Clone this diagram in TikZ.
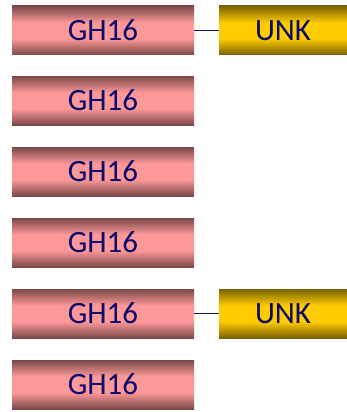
\documentclass[tikz,border=0pt]{standalone}
\usepackage{fontspec}
\setmainfont{Carlito}
\definecolor{txt}{HTML}{0A0A6E}
\definecolor{pinkmid}{HTML}{FF9999}
\definecolor{pinkedge}{HTML}{7A4848}
\definecolor{goldmid}{HTML}{FFCC00}
\definecolor{goldedge}{HTML}{7A6200}
\definecolor{linkc}{HTML}{101070}
\pgfdeclareverticalshading{pinkbar}{100bp}{color(0bp)=(pinkedge); color(25bp)=(pinkedge); color(42bp)=(pinkmid); color(58bp)=(pinkmid); color(75bp)=(pinkedge); color(100bp)=(pinkedge)}
\pgfdeclareverticalshading{goldbar}{100bp}{color(0bp)=(goldedge); color(25bp)=(goldedge); color(42bp)=(goldmid); color(58bp)=(goldmid); color(75bp)=(goldedge); color(100bp)=(goldedge)}
\begin{document}
\begin{tikzpicture}[x=1pt,y=-1pt,
  gh/.style={minimum width=182pt,minimum height=49pt,inner sep=0pt,
    shading=pinkbar,
    text=txt,font=\fontsize{31}{31}\selectfont},
  unk/.style={minimum width=128pt,minimum height=49pt,inner sep=0pt,
    shading=goldbar,
    text=txt,font=\fontsize{31}{31}\selectfont},
  link/.style={draw=linkc,line width=1.4pt}]
\useasboundingbox (0,0) rectangle (347,412);
\node[gh] (g1) at (103,30.5) {GH16};
\node[gh] (g2) at (103,100.5) {GH16};
\node[gh] (g3) at (103,171.5) {GH16};
\node[gh] (g4) at (103,242.5) {GH16};
\node[gh] (g5) at (103,313.5) {GH16};
\node[gh] (g6) at (103,384.5) {GH16};
\node[unk] (u1) at (283,30.5) {UNK};
\node[unk] (u5) at (283,313.5) {UNK};
\draw[link] (g1.east) -- (u1.west);
\draw[link] (g5.east) -- (u5.west);
\end{tikzpicture}
\end{document}
